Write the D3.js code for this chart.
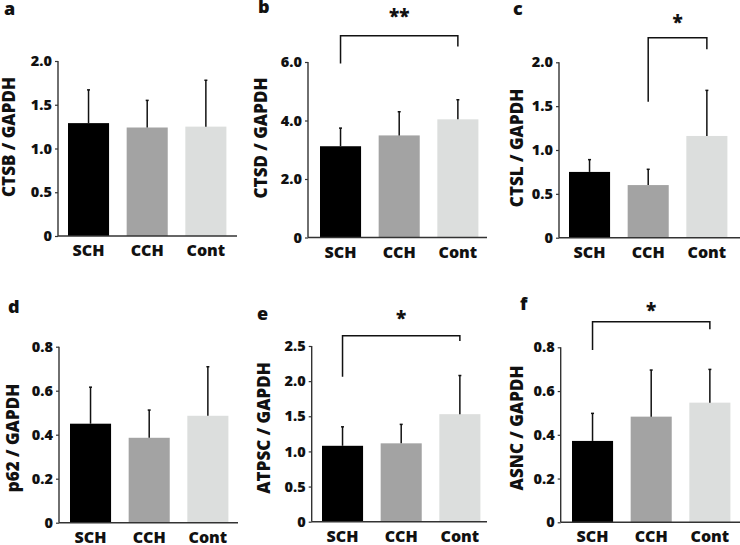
<!DOCTYPE html>
<html>
<head>
  <meta charset="utf-8">
  <script src="https://d3js.org/d3.v7.min.js"></script>
  <style>
    body { margin: 0; background: #fff; }
    svg text { font-family: "Open Sans", sans-serif; font-weight: 800; fill: #111; }
  </style>
</head>
<body>
<script>
  // groups shown in every panel
  var groups = ["SCH", "CCH", "Cont"];
  var barColors = ["#000000", "#a3a3a3", "#dcdedd"];

  // one entry per panel, a..f
  var letters = ["a", "b", "c", "d", "e", "f"];
  var yTitles = ["CTSB / GAPDH", "CTSD / GAPDH", "CTSL / GAPDH",
                 "p62 / GAPDH", "ATPSC / GAPDH", "ASNC / GAPDH"];

  // means and upper error (SD)
  var ctsbMean = [1.29, 1.24, 1.25],   ctsbErr = [0.38, 0.31, 0.53];
  var ctsdMean = [3.12, 3.49, 4.04],   ctsdErr = [0.62, 0.81, 0.67];
  var ctslMean = [0.75, 0.60, 1.16],   ctslErr = [0.14, 0.18, 0.52];
  var p62Mean  = [0.45, 0.386, 0.486], p62Err  = [0.166, 0.126, 0.223];
  var atpscMean = [1.08, 1.115, 1.53], atpscErr = [0.27, 0.27, 0.55];
  var asncMean = [0.372, 0.483, 0.547], asncErr = [0.126, 0.213, 0.152];

  var means = [ctsbMean, ctsdMean, ctslMean, p62Mean, atpscMean, asncMean];
  var errs  = [ctsbErr, ctsdErr, ctslErr, p62Err, atpscErr, asncErr];

  // y axis ticks and labels
  var ticksHalf = [0, 0.5, 1.0, 1.5, 2.0];
  var labelsHalf = ["0", "0.5", "1.0", "1.5", "2.0"];
  var ticksTwo = [0, 2, 4, 6];
  var labelsTwo = ["0", "2.0", "4.0", "6.0"];
  var ticksFifth = [0, 0.2, 0.4, 0.6, 0.8];
  var labelsFifth = ["0", "0.2", "0.4", "0.6", "0.8"];
  var ticksAtp = [0, 0.5, 1.0, 1.5, 2.0, 2.5];
  var labelsAtp = ["0", "0.5", "1.0", "1.5", "2.0", "2.5"];

  var yTicks = [ticksHalf, ticksTwo, ticksHalf, ticksFifth, ticksAtp, ticksFifth];
  var yLabels = [labelsHalf, labelsTwo, labelsHalf, labelsFifth, labelsAtp, labelsFifth];

  // significance brackets (value units): null = none
  var sig = [
    null,
    {from: 0, to: 2, text: "**", level: 6.9,  leftEnd: 5.95, rightEnd: 6.53, textAt: 7.63},
    {from: 1, to: 2, text: "*",  level: 2.28, leftEnd: 1.55, rightEnd: 2.15, textAt: 2.48},
    null,
    {from: 0, to: 2, text: "*",  level: 2.646, leftEnd: 2.063, rightEnd: 2.57, textAt: 2.92},
    {from: 0, to: 2, text: "*",  level: 0.917, leftEnd: 0.788, rightEnd: 0.882, textAt: 0.98}
  ];

  // layout of each panel in pixels
  var layout = [
    {ax: 58,    bx: 68,  end: 237, top: 61,    bot: 236,   tx: 15,  ty: 137, lx: 4,   ly: 15},
    {ax: 308,   bx: 320, end: 487, top: 62,    bot: 237.5, tx: 267, ty: 138, lx: 258, ly: 13},
    {ax: 559,   bx: 569, end: 740, top: 62.3,  bot: 237.7, tx: 523, ty: 148, lx: 513, ly: 15},
    {ax: 59,    bx: 70,  end: 238, top: 346.7, bot: 522.7, tx: 19,  ty: 438, lx: 8,   ly: 313},
    {ax: 311.7, bx: 322, end: 487, top: 346,   bot: 521.7, tx: 270, ty: 428, lx: 257, ly: 320},
    {ax: 560.7, bx: 572, end: 740, top: 347.3, bot: 522.3, tx: 523, ty: 428, lx: 520, ly: 310}
  ];

  var svg = d3.select("body").append("svg")
    .attr("width", 740)
    .attr("height", 545);

  layout.forEach(function (L, i) {
    var g = svg.append("g");
    var tk = yTicks[i];

    var y = d3.scaleLinear()
      .domain([0, tk[tk.length - 1]])
      .range([L.bot, L.top]);

    var x = d3.scaleBand()
      .domain(groups)
      .range([L.bx - 8.8, L.bx - 8.8 + 176])
      .paddingInner(0.3)
      .paddingOuter(0.15);

    // bars
    g.selectAll("rect.bar")
      .data(means[i])
      .enter().append("rect")
        .attr("class", "bar")
        .attr("x", function (d, j) { return x(groups[j]); })
        .attr("y", function (d) { return y(d); })
        .attr("width", x.bandwidth())
        .attr("height", function (d) { return L.bot - y(d); })
        .attr("fill", function (d, j) { return barColors[j]; });

    // upper error bars
    g.selectAll("line.err")
      .data(means[i])
      .enter().append("line")
        .attr("class", "err")
        .attr("x1", function (d, j) { return x(groups[j]) + x.bandwidth() / 2; })
        .attr("x2", function (d, j) { return x(groups[j]) + x.bandwidth() / 2; })
        .attr("y1", function (d) { return y(d); })
        .attr("y2", function (d, j) { return y(d + errs[i][j]); })
        .attr("stroke", "#111")
        .attr("stroke-width", 1.5);

    g.selectAll("line.cap")
      .data(means[i])
      .enter().append("line")
        .attr("class", "cap")
        .attr("x1", function (d, j) { return x(groups[j]) + x.bandwidth() / 2 - 1.5; })
        .attr("x2", function (d, j) { return x(groups[j]) + x.bandwidth() / 2 + 1.5; })
        .attr("y1", function (d, j) { return y(d + errs[i][j]); })
        .attr("y2", function (d, j) { return y(d + errs[i][j]); })
        .attr("stroke", "#111")
        .attr("stroke-width", 1.5);

    // y axis
    var yAxis = d3.axisLeft(y)
      .tickValues(tk)
      .tickFormat(function (d, j) { return yLabels[i][j]; })
      .tickSize(3)
      .tickPadding(3);

    var ya = g.append("g")
      .attr("transform", "translate(" + L.ax + ",0)")
      .call(yAxis);
    ya.select(".domain").attr("stroke", "#333").attr("stroke-width", 1.4)
      .attr("d", "M0," + L.top + "V" + L.bot);
    ya.selectAll(".tick line").attr("stroke", "#333").attr("stroke-width", 1.2);
    ya.selectAll(".tick text")
      .style("font-size", "14.5px")
      .style("font-family", "'Open Sans', sans-serif")
      .style("font-weight", "800")
      .attr("fill", "#111");

    // x axis line
    g.append("line")
      .attr("x1", L.ax).attr("x2", L.end)
      .attr("y1", L.bot).attr("y2", L.bot)
      .attr("stroke", "#333")
      .attr("stroke-width", 1.4);

    // category labels
    g.selectAll("text.cat")
      .data(groups)
      .enter().append("text")
        .attr("class", "cat")
        .attr("x", function (d) { return x(d) + x.bandwidth() / 2; })
        .attr("y", L.bot + 20)
        .attr("text-anchor", "middle")
        .style("font-size", "16px")
        .text(function (d) { return d; });

    // y title
    g.append("text")
      .attr("transform", "translate(" + L.tx + "," + L.ty + ") rotate(-90)")
      .attr("text-anchor", "middle")
      .style("font-size", "17px")
      .text(yTitles[i]);

    // panel letter
    g.append("text")
      .attr("x", L.lx).attr("y", L.ly)
      .style("font-size", "18px")
      .text(letters[i]);

    // significance bracket
    var s = sig[i];
    if (s) {
      var xa = x(groups[s.from]) + x.bandwidth() / 2;
      var xb = x(groups[s.to]) + x.bandwidth() / 2;
      g.append("path")
        .attr("d", "M" + xa + "," + y(s.leftEnd) + "V" + y(s.level) +
                   "H" + xb + "V" + y(s.rightEnd))
        .attr("fill", "none")
        .attr("stroke", "#111")
        .attr("stroke-width", 1.5);
      g.append("text")
        .attr("x", (xa + xb) / 2)
        .attr("y", y(s.textAt) + 9)
        .attr("text-anchor", "middle")
        .style("font-size", "19px")
        .text(s.text);
    }
  });
</script>
</body>
</html>
